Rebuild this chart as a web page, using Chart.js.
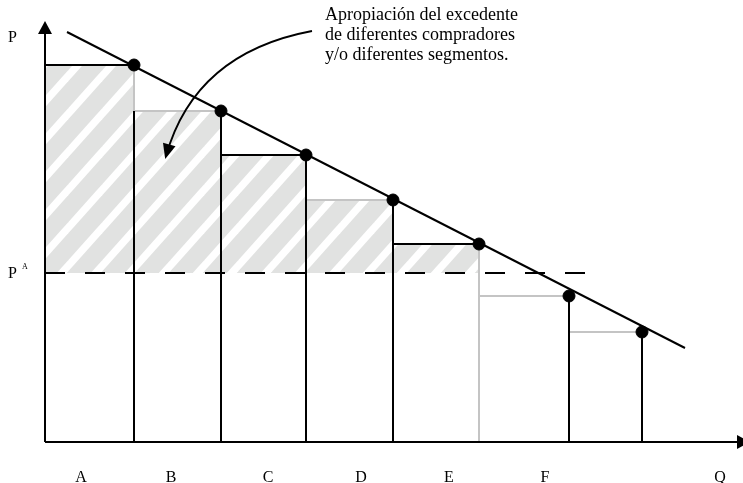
<!DOCTYPE html>
<html lang="es">
<head>
  <meta charset="UTF-8">
  <script src="https://cdn.jsdelivr.net/npm/chart.js@4.4.0/dist/chart.umd.min.js"></script>
  <title>Discriminacion de precios</title>
<style>
*{
    margin: 0px;
    padding: 0px;
}
body{
    background: white;
}
</style>
</head>
<body>
<canvas id="chart" width="743" height="483"></canvas>
<script>

// quantities where each buyer/segment ends (dot positions)
const qBreaks = [8.9, 17.6, 26.1, 34.8, 43.4, 52.4, 59.7];
// reservation price of each buyer/segment
const prices = [37.7, 33.1, 28.7, 24.2, 19.8, 14.6, 11.0];
// colour of the top edge and the right edge of each step
const topColors = ["black", "gray", "black", "gray", "black", "gray", "gray"];
const sideColors = ["black", "black", "black", "black", "gray", "black", "black"];
// single price P^A
const priceA = 16.9;
const dashEnd = 54.5;
// demand line end points
const demandQ = [2.2, 64.0];
const demandP = [41.0, 9.4];
// labels below the Q axis
const catLabels = ["A", "B", "C", "D", "E", "F", "Q"];
const catPos = [3.6, 12.6, 22.3, 31.6, 40.4, 50.0, 67.5];
// annotation
const noteLines = ["Apropiación del excedente", "de diferentes compradores", "y/o diferentes segmentos."];

const GRAY = "#c4c4c4";
const HATCH = "#e1e2e1";

// hatch pattern
function makeHatch(){
  const w = 34, h = 38, hw = 5;
  const c = document.createElement("canvas");
  c.width = w; c.height = h;
  const g = c.getContext("2d");
  g.fillStyle = HATCH;
  g.fillRect(0, 0, w, h);
  g.fillStyle = "white";
  for (let k = -1; k <= 1; k++) {
    const o = k * w;
    g.beginPath();
    g.moveTo(o - hw, h);
    g.lineTo(o + w - hw, 0);
    g.lineTo(o + w + hw, 0);
    g.lineTo(o + hw, h);
    g.closePath();
    g.fill();
  }
  return g.createPattern(c, "repeat");
}

function seg(x1, y1, x2, y2, color, extra){
  return Object.assign({
    type: "line",
    data: [{x: x1, y: y1}, {x: x2, y: y2}],
    borderColor: color === "gray" ? GRAY : "black",
    borderWidth: 2,
    pointRadius: 0,
    fill: false,
    order: 5
  }, extra || {});
}

const datasets = [];

// dots
datasets.push({
  type: "scatter",
  data: qBreaks.map((q, i) => ({x: q, y: prices[i]})),
  backgroundColor: "black",
  borderColor: "black",
  pointRadius: 6,
  order: 0
});

// demand line
datasets.push(seg(demandQ[0], demandP[0], demandQ[1], demandP[1], "black", {order: 1}));

// step tops and sides
qBreaks.forEach((q, i) => {
  const q0 = i === 0 ? 0 : qBreaks[i - 1];
  datasets.push(seg(q0, prices[i], q, prices[i], topColors[i]));
  const top = i === 0 ? prices[1] : prices[i];
  datasets.push(seg(q, top, q, 0, sideColors[i]));
});
// gray piece of the first side, above step B
datasets.push(seg(qBreaks[0], prices[0], qBreaks[0], prices[1], "gray", {order: 6}));

// dashed P^A line
datasets.push(seg(0, priceA, dashEnd, priceA, "black", {borderDash: [20, 20], order: 4}));

// hatched surplus area
const hatchPts = [{x: 0, y: prices[0]}];
for (let i = 0; i < 4; i++) hatchPts.push({x: qBreaks[i], y: prices[i + 1]});
hatchPts.push({x: qBreaks[4], y: prices[4]});
datasets.push({
  type: "line",
  data: hatchPts,
  stepped: true,
  borderWidth: 0,
  borderColor: "rgba(0,0,0,0)",
  pointRadius: 0,
  backgroundColor: makeHatch(),
  fill: {value: priceA},
  order: 10
});

const decor = {
  id: "decor",
  afterDraw(chart){
    const ctx = chart.ctx;
    const xs = chart.scales.x, ys = chart.scales.y;
    const X = v => xs.getPixelForValue(v), Y = v => ys.getPixelForValue(v);
    ctx.save();
    ctx.strokeStyle = "black";
    ctx.fillStyle = "black";
    ctx.lineWidth = 2;
    // axes
    const x0 = X(0), y0 = Y(0);
    ctx.beginPath();
    ctx.moveTo(x0, y0); ctx.lineTo(x0, Y(40.8));
    ctx.moveTo(x0, y0); ctx.lineTo(X(69.2), y0);
    ctx.stroke();
    ctx.beginPath();
    ctx.moveTo(x0, Y(42.1)); ctx.lineTo(x0 - 7, Y(40.8)); ctx.lineTo(x0 + 7, Y(40.8));
    ctx.closePath(); ctx.fill();
    ctx.beginPath();
    ctx.moveTo(X(70.5), y0); ctx.lineTo(X(69.2), y0 - 7); ctx.lineTo(X(69.2), y0 + 7);
    ctx.closePath(); ctx.fill();

    // axis labels
    ctx.textBaseline = "alphabetic";
    ctx.textAlign = "left";
    ctx.font = "16px 'Liberation Serif'";
    ctx.fillText("P", X(-3.7), Y(40.0));
    ctx.fillText("P", X(-3.7), Y(priceA - 0.5));
    ctx.font = "8px 'Liberation Serif'";
    ctx.fillText("A", X(-2.3), Y(priceA + 0.4));

    ctx.font = "16px 'Liberation Serif'";
    ctx.textAlign = "center";
    catLabels.forEach((l, i) => ctx.fillText(l, X(catPos[i]), Y(-4.0)));

    // note
    ctx.font = "18px 'Liberation Serif'";
    ctx.textAlign = "left";
    noteLines.forEach((t, i) => ctx.fillText(t, X(28.0), Y(42.2 - 2 * i)));

    // curved arrow
    const sx = X(26.7), sy = Y(41.1), cx = X(15.0), cy = Y(38.9), ex = X(12.1), ey = Y(28.6);
    ctx.lineWidth = 1.8;
    ctx.beginPath();
    ctx.moveTo(sx, sy);
    ctx.quadraticCurveTo(cx, cy, ex, ey);
    ctx.stroke();
    const ang = Math.atan2(ey - cy, ex - cx);
    const L = 15, W = 6.5;
    const tx = ex + Math.cos(ang) * 3, ty = ey + Math.sin(ang) * 3;
    ctx.beginPath();
    ctx.moveTo(tx, ty);
    ctx.lineTo(tx - L * Math.cos(ang) + W * Math.sin(ang), ty - L * Math.sin(ang) - W * Math.cos(ang));
    ctx.lineTo(tx - L * Math.cos(ang) - W * Math.sin(ang), ty - L * Math.sin(ang) + W * Math.cos(ang));
    ctx.closePath(); ctx.fill();
    ctx.restore();
  }
};

new Chart(document.getElementById("chart"), {
  type: "scatter",
  data: {datasets: datasets},
  options: {
    responsive: false,
    animation: false,
    layout: {autoPadding: false, padding: {left: 45, right: 0, top: 20, bottom: 41}},
    plugins: {legend: {display: false}, tooltip: {enabled: false}},
    scales: {
      x: {type: "linear", min: 0, max: 69.8, display: false},
      y: {type: "linear", min: 0, max: 42.2, display: false}
    }
  },
  plugins: [decor]
});
</script>
</body>
</html>
